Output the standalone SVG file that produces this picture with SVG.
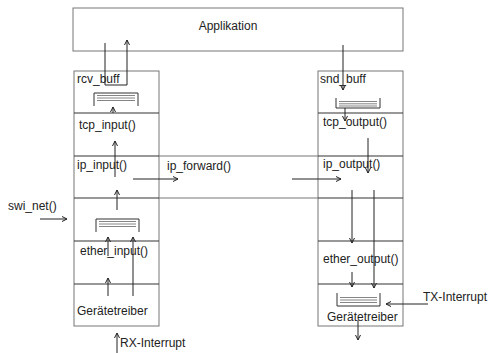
<svg xmlns="http://www.w3.org/2000/svg" width="489" height="353" viewBox="0 0 489 353">
<defs>
<marker id="ah" viewBox="0 0 6 6" refX="5.5" refY="3" markerWidth="6" markerHeight="6" markerUnits="userSpaceOnUse" orient="auto">
<path d="M0.5,0.5 L5.5,3 L0.5,5.5" fill="none" stroke="#222" stroke-width="1"/>
</marker>
<style>
.box{fill:#fff;stroke:#777;stroke-width:1}
.div{stroke:#333;stroke-width:1.2}
.band{stroke:#777;stroke-width:1}
.buf{fill:none;stroke:#333;stroke-width:1}
.bl{stroke:#666;stroke-width:0.8}
.a{fill:none;stroke:#222;stroke-width:1;marker-end:url(#ah)}
text{font-family:"Liberation Sans",Arial,sans-serif;font-size:12px;fill:#222}
</style>
</defs>
<g id="applikation">
<rect class="box" x="73" y="8" width="330" height="43"/>
<text x="228" y="30" text-anchor="middle">Applikation</text>
</g>
<g id="band">
<line class="band" x1="159" y1="156" x2="318" y2="156"/>
<line class="band" x1="159" y1="198" x2="318" y2="198"/>
<text x="167" y="170">ip_forward()</text>
</g>
<g id="left-stack">
<rect class="box" x="74" y="71" width="85" height="255"/>
<line class="div" x1="74" y1="113" x2="159" y2="113"/>
<line class="div" x1="74" y1="156" x2="159" y2="156"/>
<line class="div" x1="74" y1="198" x2="159" y2="198"/>
<line class="div" x1="74" y1="241" x2="159" y2="241"/>
<line class="div" x1="74" y1="284" x2="159" y2="284"/>
</g>
<g id="rcv_buff">
<text x="77" y="83">rcv_buff</text>
<path class="buf" d="M94,106 V93 H138 V106"/>
<line class="bl" x1="97" y1="95.5" x2="135" y2="95.5"/>
<line class="bl" x1="97" y1="98" x2="135" y2="98"/>
<line class="bl" x1="97" y1="100.5" x2="135" y2="100.5"/>
</g>
<g id="tcp_input"><text x="79" y="129">tcp_input()</text></g>
<g id="ip_input"><text x="77" y="169">ip_input()</text></g>
<g id="ether_input">
<path class="buf" d="M96,232 V219 H139 V232"/>
<line class="bl" x1="99" y1="221.5" x2="136" y2="221.5"/>
<line class="bl" x1="99" y1="224" x2="136" y2="224"/>
<line class="bl" x1="99" y1="226.5" x2="136" y2="226.5"/>
<text x="80" y="255">ether_input()</text>
</g>
<g id="geraetetreiber-rx"><text x="77" y="315">Gerätetreiber</text></g>
<g id="right-stack">
<rect class="box" x="318" y="71" width="85" height="255"/>
<line class="div" x1="318" y1="113" x2="403" y2="113"/>
<line class="div" x1="318" y1="156" x2="403" y2="156"/>
<line class="div" x1="318" y1="198" x2="403" y2="198"/>
<line class="div" x1="318" y1="241" x2="403" y2="241"/>
<line class="div" x1="318" y1="284" x2="403" y2="284"/>
</g>
<g id="snd_buff">
<text x="320" y="83">snd_buff</text>
<path class="buf" d="M336,98 V108 H380 V98"/>
<line class="bl" x1="339" y1="101.5" x2="377" y2="101.5"/>
<line class="bl" x1="339" y1="103.8" x2="377" y2="103.8"/>
<line class="bl" x1="339" y1="106" x2="377" y2="106"/>
</g>
<g id="tcp_output"><text x="323" y="126">tcp_output()</text></g>
<g id="ip_output"><text x="323" y="168">ip_output()</text></g>
<g id="ether_output"><text x="323" y="263">ether_output()</text></g>
<g id="geraetetreiber-tx">
<path class="buf" d="M337,293 V306 H380 V293"/>
<line class="bl" x1="340" y1="297.5" x2="377" y2="297.5"/>
<line class="bl" x1="340" y1="300" x2="377" y2="300"/>
<line class="bl" x1="340" y1="302.5" x2="377" y2="302.5"/>
<text x="327" y="321">Gerätetreiber</text>
</g>
<g id="labels">
<text x="8" y="210">swi_net()</text>
<text x="120" y="347">RX-Interrupt</text>
<text x="423" y="301">TX-Interrupt</text>
</g>
<g id="connectors">
<path class="a" d="M105,43 V85 H127 V40"/>
<path class="a" d="M113,113 V107"/>
<path class="a" d="M115,177 V141"/>
<path class="a" d="M117,210 V190"/>
<path class="a" d="M108,256 V237"/>
<path class="a" d="M133,296 V237"/>
<path class="a" d="M108,296 V278"/>
<path class="a" d="M117,353 V333"/>
<path class="a" d="M40,219 H67"/>
<path class="a" d="M133,179 H178"/>
<path class="a" d="M292,179 H341"/>
<path class="a" d="M343,45 V90"/>
<path class="a" d="M345,108 V121"/>
<path class="a" d="M368,138 V173"/>
<path class="a" d="M352,190 V243"/>
<path class="a" d="M374,190 V288"/>
<path class="a" d="M352,272 V287"/>
<path class="a" d="M428,304 H386"/>
<path class="a" d="M358,320 V340"/>
</g>
</svg>
